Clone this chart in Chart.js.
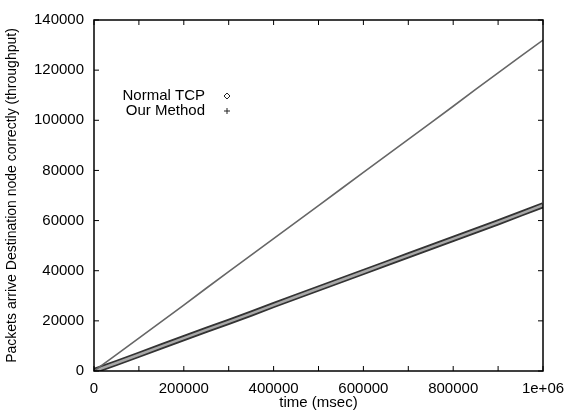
<!DOCTYPE html>
<html>
<head>
<meta charset="utf-8">
<script src="https://cdn.jsdelivr.net/npm/chart.js@4/dist/chart.umd.min.js"></script>
<style>
  body { margin: 0; background: #fff; }
  #wrap { width: 566px; height: 412px; }
</style>
</head>
<body>
<div id="wrap"><canvas id="myChart" width="566" height="412"></canvas></div>
<script>
// time (msec)
const times = [0, 50000, 100000, 150000, 200000, 250000, 300000, 350000, 400000, 450000,
    500000, 550000, 600000, 650000, 700000, 750000, 800000, 850000, 900000, 950000, 1000000];

// packets arriving at destination node
const normalTcp = [0, 3200, 6500, 9800, 13100, 16400, 19600, 22900, 26300, 29600,
    32900, 36200, 39500, 42800, 46100, 49400, 52700, 56000, 59300, 62700, 66100];
const ourMethod = [0, 6500, 13100, 19700, 26300, 33000, 39600, 46200, 52800, 59400,
    66000, 72600, 79200, 85800, 92400, 99000, 105600, 112300, 118900, 125500, 132000];

const seriesNames = ['Normal TCP', 'Our Method'];

const xTitle = 'time (msec)';
const yTitle = 'Packets arrive Destination node correctly (throughput)';

const FONT = '"Liberation Sans", Arial, Helvetica, sans-serif';

const toPoints = (ys) => times.map((t, i) => ({ x: t, y: ys[i] }));

// gnuplot style frame with inward ticks + key inside the plot
const framePlugin = {
    id: 'frame',
    afterDraw(chart) {
        const { ctx, chartArea: a, scales: { x, y } } = chart;
        ctx.save();
        ctx.strokeStyle = '#000';
        ctx.lineWidth = 1.5;
        ctx.strokeRect(a.left, a.top, a.right - a.left, a.bottom - a.top);

        ctx.lineWidth = 1;
        ctx.beginPath();
        for (let v = 0; v <= 1000000; v += 100000) {
            const px = x.getPixelForValue(v);
            ctx.moveTo(px, a.bottom); ctx.lineTo(px, a.bottom - 5);
            ctx.moveTo(px, a.top); ctx.lineTo(px, a.top + 5);
        }
        for (let v = 0; v <= 140000; v += 20000) {
            const py = y.getPixelForValue(v);
            ctx.moveTo(a.left, py); ctx.lineTo(a.left + 5, py);
            ctx.moveTo(a.right, py); ctx.lineTo(a.right - 5, py);
        }
        ctx.stroke();

        // key
        ctx.font = '15px ' + FONT;
        ctx.fillStyle = '#000';
        ctx.textAlign = 'right';
        ctx.textBaseline = 'middle';
        const kx = 205, mx = 227;
        ctx.fillText(seriesNames[0], kx, 96);
        ctx.fillText(seriesNames[1], kx, 111);

        ctx.strokeStyle = '#222';
        ctx.lineWidth = 1;
        ctx.beginPath();
        ctx.moveTo(mx, 93); ctx.lineTo(mx + 3, 96); ctx.lineTo(mx, 99); ctx.lineTo(mx - 3, 96); ctx.closePath();
        ctx.stroke();
        ctx.beginPath();
        ctx.moveTo(mx - 3, 111); ctx.lineTo(mx + 3, 111);
        ctx.moveTo(mx, 108); ctx.lineTo(mx, 114);
        ctx.stroke();
        ctx.restore();
    }
};

const config = {
    type: 'line',
    data: {
        datasets: [
            {
                label: seriesNames[0] + ' edge',
                data: toPoints(normalTcp),
                borderColor: '#333',
                borderWidth: 6,
                pointRadius: 0,
                tension: 0,
                order: 3
            },
            {
                label: seriesNames[0],
                data: toPoints(normalTcp),
                borderColor: '#a8a8a8',
                borderWidth: 2.5,
                pointRadius: 0,
                tension: 0,
                order: 2
            },
            {
                label: seriesNames[1],
                data: toPoints(ourMethod),
                borderColor: '#666',
                borderWidth: 1.6,
                pointRadius: 0,
                tension: 0,
                order: 1
            }
        ]
    },
    options: {
        responsive: false,
        animation: false,
        layout: { padding: { left: 0, right: 23, top: 20, bottom: 0 } },
        plugins: {
            legend: { display: false },
            tooltip: { enabled: false }
        },
        scales: {
            x: {
                type: 'linear',
                min: 0,
                max: 1000000,
                grid: { display: false, drawTicks: false },
                border: { display: false },
                ticks: {
                    stepSize: 200000,
                    padding: 9,
                    color: '#000',
                    maxRotation: 0,
                    font: { family: FONT, size: 15 },
                    callback: (v) => v === 1000000 ? '1e+06' : String(v)
                },
                title: {
                    display: true,
                    text: xTitle,
                    color: '#000',
                    font: { family: FONT, size: 15 },
                    padding: { top: 0, bottom: 0 }
                },
                afterFit: (scale) => {
                    scale.height = 41;
                    scale.paddingLeft = 0;
                    scale.paddingRight = 0;
                }
            },
            y: {
                type: 'linear',
                min: 0,
                max: 140000,
                grid: { display: false, drawTicks: false },
                border: { display: false },
                ticks: {
                    stepSize: 20000,
                    padding: 10,
                    color: '#000',
                    font: { family: FONT, size: 15 },
                    callback: (v) => String(v)
                },
                title: {
                    display: true,
                    text: yTitle,
                    color: '#000',
                    font: { family: FONT, size: 14 },
                    padding: { top: 4, bottom: 4 }
                },
                afterFit: (scale) => { scale.width = 94; }
            }
        }
    },
    plugins: [framePlugin]
};

const myChart = new Chart(document.getElementById('myChart').getContext('2d'), config);
</script>
</body>
</html>
